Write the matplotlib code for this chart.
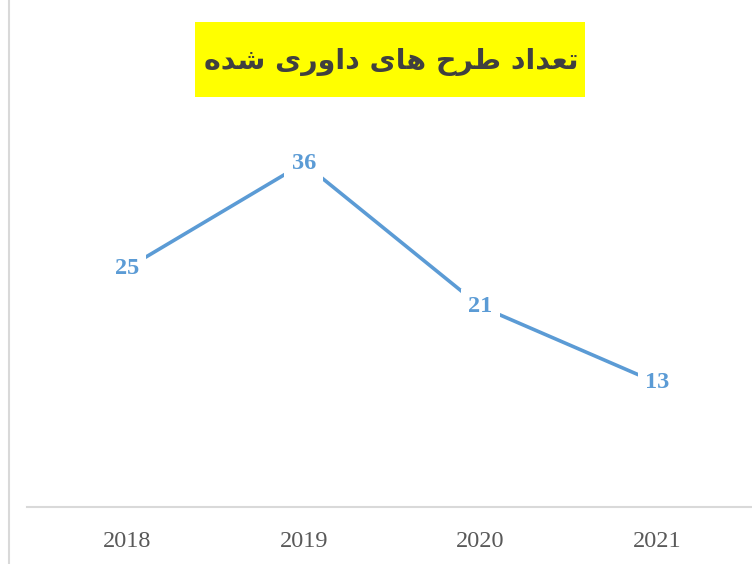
import matplotlib
matplotlib.use('Agg')
import matplotlib.pyplot as plt
from matplotlib.patches import Rectangle
from matplotlib.lines import Line2D

years = ['2018', '2019', '2020', '2021']
counts = [25, 36, 21, 13]

# title "تعداد طرح های داوری شده" written with presentation forms, logical order
title_words = [
    '\uFE97\uFECC\uFEAA\uFE8D\uFEA9',   # تعداد
    '\uFEC3\uFEAE\uFEA1',               # طرح
    '\uFEEB\uFE8E\uFEEF',               # های
    '\uFEA9\uFE8D\uFEED\uFEAD\uFEEF',   # داوری
    '\uFEB7\uFEAA\uFEE9',               # شده
]
title_text = ' '.join(title_words)[::-1]  # visual order for LTR drawing

line_color = '#5B9BD5'
grey = '#D9D9D9'

fig = plt.figure(figsize=(7.52, 5.64), dpi=100, facecolor='white')
ax = fig.add_axes([27 / 752, 1 - 507 / 564, 725 / 752, 382 / 564])

x = list(range(len(years)))
ax.plot(x, counts, color=line_color, linewidth=2.6, solid_capstyle='butt', zorder=2)
for xi, v in zip(x, counts):
    ax.text(xi, v, str(v), ha='center', va='center', color=line_color,
            fontsize=17.5, fontweight='bold', family='Liberation Serif', zorder=3,
            bbox=dict(boxstyle='square,pad=0.3', facecolor='white', edgecolor='none'))

ax.set_xlim(-0.566, 3.537)
ax.set_ylim(0, 40)
ax.set_xticks(x)
ax.set_xticklabels(years, family='Liberation Serif', fontsize=17.5, color='#595959')
ax.tick_params(axis='x', length=0, pad=17)
ax.set_yticks([])
for s in ['top', 'right', 'left']:
    ax.spines[s].set_visible(False)
ax.spines['bottom'].set_color(grey)
ax.spines['bottom'].set_linewidth(1.5)

# left border of the chart
fig.add_artist(Line2D([9 / 752, 9 / 752], [0, 1], transform=fig.transFigure,
                      color=grey, linewidth=1.5))

# yellow title box
fig.add_artist(Rectangle((195 / 752, 1 - 97 / 564), 390 / 752, 75 / 564,
                         transform=fig.transFigure, facecolor='#FFFF00', edgecolor='none'))
fig.text(391 / 752, 1 - 62 / 564, title_text, ha='center', va='center',
         fontsize=20.5, fontweight='bold', family='DejaVu Sans', color='#404040')

fig.savefig('out.png', dpi=100)
